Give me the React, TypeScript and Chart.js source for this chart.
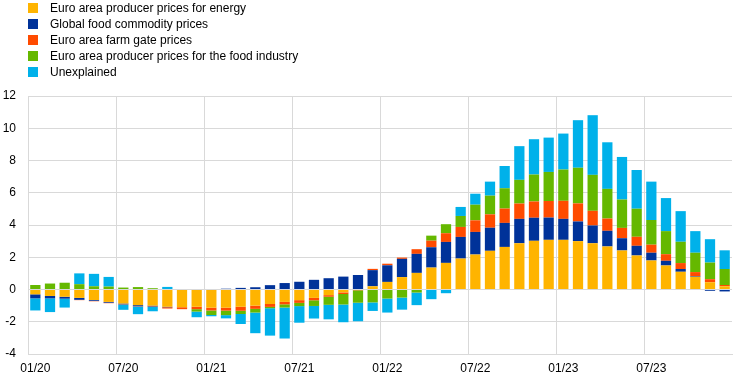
import React, { useEffect, useRef } from "react";
import { Chart, registerables } from "chart.js";

Chart.register(...registerables);

const months = [
  "01/20", "02/20", "03/20", "04/20", "05/20", "06/20", "07/20", "08/20", "09/20", "10/20", "11/20", "12/20",
  "01/21", "02/21", "03/21", "04/21", "05/21", "06/21", "07/21", "08/21", "09/21", "10/21", "11/21", "12/21",
  "01/22", "02/22", "03/22", "04/22", "05/22", "06/22", "07/22", "08/22", "09/22", "10/22", "11/22", "12/22",
  "01/23", "02/23", "03/23", "04/23", "05/23", "06/23", "07/23", "08/23", "09/23", "10/23", "11/23", "12/23",
];

const seriesNames = [
  "Euro area producer prices for energy",
  "Global food commodity prices",
  "Euro area farm gate prices",
  "Euro area producer prices for the food industry",
  "Unexplained",
];

const seriesColors = ["#FFB400", "#003299", "#FF4B00", "#65B800", "#00B1EA"];

const energy = [
  -0.3, -0.4, -0.45, -0.52, -0.65, -0.77, -0.87, -0.97, -1.0, -1.07, -1.1, -1.07,
  -1.13, -1.13, -1.07, -1.0, -0.9, -0.77, -0.66, -0.52, -0.35, -0.18, -0.03, 0.2,
  0.47, 0.77, 1.03, 1.36, 1.65, 1.92, 2.17, 2.4, 2.64, 2.87, 3.02, 3.08,
  3.08, 3.0, 2.87, 2.67, 2.42, 2.11, 1.8, 1.49, 1.1, 0.79, 0.45, 0.2,
];

const globalFood = [
  -0.25, -0.15, -0.12, -0.12, -0.05, -0.05, -0.05, -0.07, -0.05, -0.03, 0.0, 0.0,
  0.03, 0.05, 0.1, 0.14, 0.27, 0.4, 0.48, 0.6, 0.7, 0.8, 0.9, 1.0,
  1.03, 1.13, 1.18, 1.26, 1.3, 1.34, 1.4, 1.43, 1.49, 1.51, 1.43, 1.38,
  1.3, 1.22, 1.1, 0.97, 0.76, 0.6, 0.48, 0.29, 0.17, 0.04, -0.08, -0.12,
];

const farmGate = [
  0.0, 0.0, 0.0, -0.02, -0.03, -0.03, -0.02, -0.02, -0.03, -0.08, -0.12, -0.15,
  -0.17, -0.18, -0.25, -0.2, -0.18, -0.15, -0.17, -0.15, -0.1, -0.1, -0.02, 0.08,
  0.1, 0.08, 0.29, 0.41, 0.54, 0.62, 0.72, 0.83, 0.89, 0.95, 1.01, 1.03,
  1.12, 1.12, 0.91, 0.76, 0.64, 0.56, 0.5, 0.41, 0.37, 0.25, 0.19, 0.08,
];

const foodIndustry = [
  0.28, 0.37, 0.42, 0.33, 0.2, 0.18, 0.12, 0.15, 0.08, 0.0, 0.03, -0.15,
  -0.28, -0.28, -0.2, -0.23, -0.08, -0.2, -0.2, -0.35, -0.5, -0.65, -0.77, -0.8,
  -0.56, -0.5, -0.19, 0.31, 0.56, 0.68, 0.97, 1.16, 1.26, 1.47, 1.67, 1.8,
  1.94, 2.21, 2.23, 1.84, 1.76, 1.74, 1.53, 1.43, 1.32, 1.2, 1.03, 0.99,
];

const unexplained = [
  -0.75, -0.85, -0.55, 0.67, 0.77, 0.6, -0.32, -0.47, -0.27, 0.16, 0.0, -0.35,
  -0.08, -0.2, -0.62, -1.28, -1.7, -1.92, -1.03, -0.78, -0.9, -1.1, -1.15, -0.53,
  -0.87, -0.75, -0.78, -0.6, -0.23, 0.56, 0.68, 0.87, 1.38, 2.09, 2.19, 2.13,
  2.23, 2.95, 3.7, 2.89, 2.64, 2.4, 2.38, 2.05, 1.9, 1.34, 1.45, 1.16,
];

const seriesValues = [energy, globalFood, farmGate, foodIndustry, unexplained];

const yMin = -4;
const yMax = 12;
const yStep = 2;
const labelEvery = 6;

const FONT = "'Liberation Sans', Arial, sans-serif";
const GRID = "#d9d9d9";

export default function App() {
  const canvasRef = useRef<HTMLCanvasElement | null>(null);

  useEffect(() => {
    const canvas = canvasRef.current;
    if (!canvas) return;
    const chart = new Chart(canvas, {
      type: "bar",
      data: {
        labels: months,
        datasets: seriesNames.map((name, i) => ({
          label: name,
          data: seriesValues[i],
          backgroundColor: seriesColors[i],
          borderWidth: 0,
          barPercentage: 0.7,
          categoryPercentage: 1.0,
          stack: "s",
        })),
      },
      options: {
        responsive: false,
        animation: false,
        devicePixelRatio: 1,
        layout: { padding: { top: 96, left: 0, right: 12, bottom: 0 } },
        plugins: {
          legend: { display: false },
          tooltip: { enabled: false },
        },
        scales: {
          x: {
            stacked: true,
            offset: true,
            afterFit: (scale: any) => {
              scale.height = 28;
            },
            grid: {
              offset: true,
              drawTicks: false,
              lineWidth: 1,
              color: (ctx: any) => (ctx.index % labelEvery === 0 ? GRID : "rgba(0,0,0,0)"),
            },
            border: { display: true, color: GRID },
            ticks: {
              autoSkip: false,
              maxRotation: 0,
              minRotation: 0,
              padding: 7,
              color: "#000",
              font: { family: FONT, size: 12 },
              callback: (_v: any, i: number) => (i % labelEvery === 0 ? months[i] : ""),
            },
          },
          y: {
            stacked: true,
            min: yMin,
            max: yMax,
            afterFit: (scale: any) => {
              scale.width = 28;
            },
            grid: { color: GRID, lineWidth: 1, drawTicks: false },
            border: { display: true, color: GRID },
            ticks: {
              stepSize: yStep,
              padding: 12,
              color: "#000",
              font: { family: FONT, size: 12 },
            },
          },
        },
      },
    });
    return () => chart.destroy();
  }, []);

  return (
    <div style={{ position: "fixed", left: 0, top: 0, width: 744, height: 382, background: "#fff" }}>
      <canvas ref={canvasRef} width={744} height={382} style={{ position: "absolute", left: 0, top: 0 }} />
      <div style={{ position: "absolute", left: 0, top: 0 }}>
        {seriesNames.map((name, i) => (
          <div key={name} style={{ position: "absolute", left: 0, top: i * 16, height: 16, whiteSpace: "nowrap" }}>
            <span
              style={{
                position: "absolute",
                left: 28,
                top: 3,
                width: 10,
                height: 10,
                background: seriesColors[i],
              }}
            />
            <span
              style={{
                position: "absolute",
                left: 50,
                top: 0,
                lineHeight: "16px",
                fontSize: 12,
                fontFamily: FONT,
                color: "#000",
              }}
            >
              {name}
            </span>
          </div>
        ))}
      </div>
    </div>
  );
}
